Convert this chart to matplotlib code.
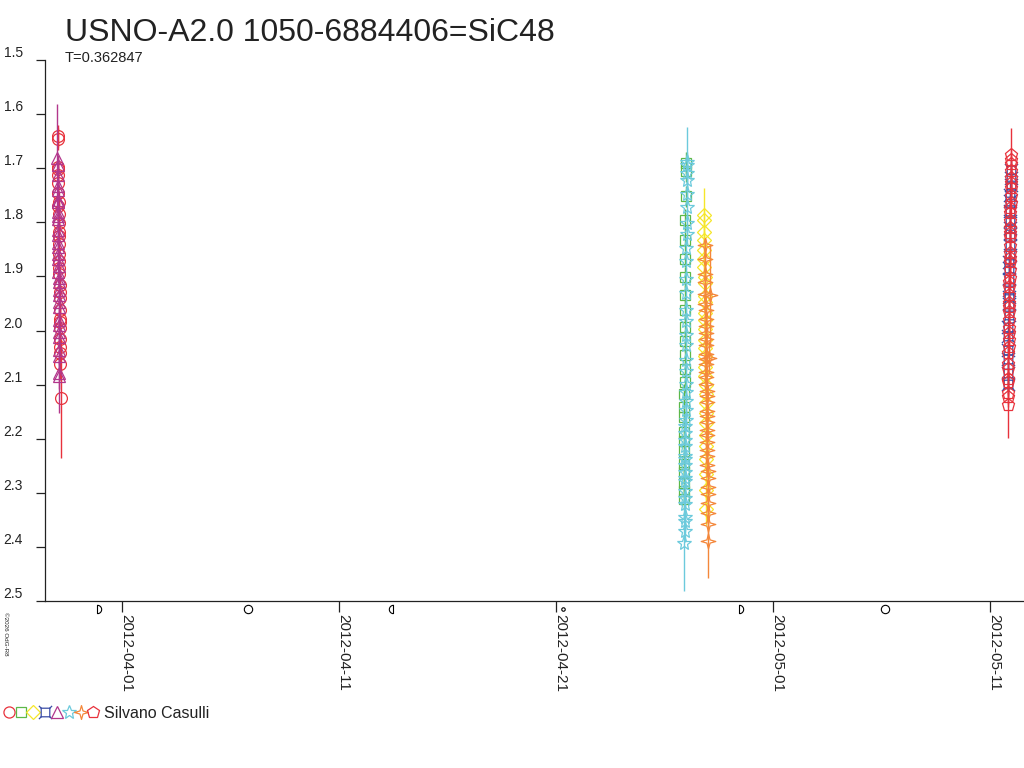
import matplotlib
matplotlib.use('Agg')
import matplotlib.pyplot as plt
import numpy as np
import pandas as pd
import matplotlib.dates as mdates
from matplotlib.path import Path
from matplotlib.lines import Line2D
from matplotlib.legend_handler import HandlerTuple
from matplotlib.transforms import blended_transform_factory

plt.rcParams['font.family'] = ['Liberation Sans', 'DejaVu Sans']

# Observations, time as HJD - 2456000, magnitudes and errors
# night 1 (2012-03-29): red circles + magenta triangles
t_circ = [15.521, 15.525, 15.529, 15.534, 15.538, 15.542, 15.547, 15.551, 15.555, 15.559,
          15.564, 15.568, 15.572, 15.577, 15.581, 15.585, 15.589, 15.594, 15.598, 15.602,
          15.607, 15.611, 15.615, 15.619, 15.624, 15.628, 15.632, 15.636, 15.640, 15.645]
m_circ = [1.640, 1.646, 1.702, 1.712, 1.698, 1.728, 1.745, 1.770, 1.785, 1.762,
          1.802, 1.818, 1.840, 1.826, 1.858, 1.872, 1.895, 1.884, 1.915, 1.940,
          1.928, 1.962, 1.978, 1.995, 1.985, 2.015, 2.030, 2.042, 2.062, 2.125]
e_circ = [0.020, 0.020, 0.015, 0.020, 0.020, 0.015, 0.020, 0.020, 0.025, 0.020,
          0.020, 0.020, 0.020, 0.025, 0.020, 0.020, 0.020, 0.025, 0.020, 0.020,
          0.020, 0.025, 0.020, 0.020, 0.030, 0.020, 0.025, 0.030, 0.030, 0.110]

t_tri = [15.503, 15.506, 15.510, 15.512, 15.515, 15.519, 15.521, 15.524, 15.528, 15.530, 15.533,
         15.537, 15.539, 15.542, 15.546, 15.548, 15.551, 15.555, 15.557, 15.560, 15.564, 15.566,
         15.569, 15.573, 15.575, 15.578, 15.582, 15.584, 15.587, 15.591, 15.593, 15.596]
m_tri = [1.681, 1.695, 1.712, 1.741, 1.733, 1.762, 1.758, 1.789, 1.794, 1.781, 1.823,
         1.815, 1.846, 1.838, 1.867, 1.859, 1.892, 1.881, 1.910, 1.903, 1.934, 1.925,
         1.957, 1.948, 1.981, 1.990, 2.012, 2.003, 2.048, 2.036, 2.079, 2.084]
e_tri = [0.100, 0.020, 0.015, 0.020, 0.025, 0.020, 0.015, 0.020, 0.020, 0.025, 0.020,
         0.020, 0.015, 0.020, 0.020, 0.025, 0.020, 0.020, 0.020, 0.015, 0.020, 0.025,
         0.020, 0.020, 0.020, 0.025, 0.020, 0.030, 0.020, 0.025, 0.030, 0.068]

# night 2 (2012-04-26/27): green squares + cyan stars
t_sq = [44.360, 44.364, 44.368, 44.372, 44.376, 44.381, 44.385, 44.389, 44.393, 44.397,
        44.401, 44.405, 44.410, 44.414, 44.418, 44.422, 44.426, 44.431, 44.435, 44.439,
        44.443, 44.447, 44.452, 44.456, 44.460]
m_sq = [2.312, 2.296, 2.281, 2.262, 2.247, 2.223, 2.205, 2.188, 2.160, 2.142,
        2.118, 2.096, 2.071, 2.045, 2.020, 1.994, 1.962, 1.935, 1.902, 1.868,
        1.833, 1.795, 1.752, 1.705, 1.690]
e_sq = [0.020, 0.020, 0.025, 0.020, 0.020, 0.015, 0.020, 0.020, 0.020, 0.025,
        0.020, 0.020, 0.015, 0.020, 0.020, 0.020, 0.025, 0.020, 0.020, 0.015,
        0.020, 0.020, 0.020, 0.020, 0.020]

t_star = [44.400, 44.403, 44.406, 44.409, 44.412, 44.415, 44.418, 44.421, 44.424, 44.427,
          44.430, 44.433, 44.436, 44.439, 44.442, 44.445, 44.448, 44.451, 44.454, 44.457,
          44.460, 44.463, 44.466, 44.469, 44.472, 44.475, 44.478, 44.481, 44.484, 44.487,
          44.490, 44.493, 44.496, 44.499, 44.502, 44.505, 44.508, 44.511, 44.514, 44.517]
m_star = [2.392, 2.371, 2.352, 2.344, 2.321, 2.309, 2.296, 2.279, 2.273, 2.261,
          2.249, 2.238, 2.232, 2.214, 2.203, 2.190, 2.176, 2.166, 2.147, 2.131,
          2.113, 2.099, 2.075, 2.054, 2.027, 2.008, 1.983, 1.962, 1.931, 1.904,
          1.871, 1.848, 1.821, 1.801, 1.771, 1.748, 1.722, 1.709, 1.695, 1.688]
e_star = [0.090, 0.020, 0.020, 0.025, 0.020, 0.020, 0.015, 0.020, 0.020, 0.025,
          0.020, 0.020, 0.020, 0.015, 0.020, 0.025, 0.020, 0.020, 0.020, 0.020,
          0.025, 0.020, 0.015, 0.020, 0.020, 0.020, 0.025, 0.020, 0.020, 0.020,
          0.015, 0.020, 0.020, 0.025, 0.020, 0.020, 0.020, 0.020, 0.025, 0.065]

# night 3 (2012-04-27/28): yellow diamonds + orange four-point stars
t_dia = [45.300, 45.304, 45.308, 45.311, 45.315, 45.319, 45.323, 45.326, 45.330, 45.334,
         45.338, 45.341, 45.345, 45.349, 45.353, 45.356, 45.360, 45.364, 45.368, 45.371,
         45.375, 45.379, 45.383, 45.386, 45.390, 45.394, 45.398, 45.401, 45.405, 45.410]
m_dia = [1.786, 1.795, 1.818, 1.832, 1.851, 1.868, 1.883, 1.902, 1.912, 1.936,
         1.948, 1.967, 1.981, 1.998, 2.018, 2.033, 2.048, 2.068, 2.085, 2.101,
         2.118, 2.134, 2.152, 2.171, 2.193, 2.214, 2.238, 2.265, 2.295, 2.330]
e_dia = [0.050, 0.020, 0.020, 0.015, 0.020, 0.025, 0.020, 0.020, 0.020, 0.015,
         0.020, 0.020, 0.025, 0.020, 0.020, 0.020, 0.020, 0.025, 0.020, 0.020,
         0.015, 0.020, 0.020, 0.025, 0.020, 0.020, 0.020, 0.025, 0.020, 0.030]

t_four = [45.350, 45.354, 45.358, 45.362, 45.366, 45.369, 45.373, 45.377, 45.381, 45.385,
          45.389, 45.392, 45.396, 45.400, 45.404, 45.408, 45.412, 45.415, 45.419, 45.423,
          45.427, 45.431, 45.435, 45.438, 45.442, 45.446, 45.450, 45.454, 45.458, 45.461,
          45.465, 45.469, 45.473, 45.477, 45.481, 45.484, 45.488, 45.492, 45.530, 45.565]
m_four = [1.842, 1.868, 1.895, 1.910, 1.932, 1.951, 1.963, 1.978, 1.992, 2.004,
          2.015, 2.027, 2.043, 2.052, 2.061, 2.076, 2.086, 2.098, 2.112, 2.121,
          2.133, 2.148, 2.158, 2.169, 2.184, 2.194, 2.207, 2.221, 2.232, 2.248,
          2.259, 2.273, 2.290, 2.302, 2.318, 2.337, 2.358, 2.390, 2.050, 1.935]
e_four = [0.012, 0.020, 0.065, 0.020, 0.020, 0.025, 0.020, 0.020, 0.020, 0.015,
          0.020, 0.020, 0.025, 0.020, 0.020, 0.020, 0.020, 0.025, 0.020, 0.020,
          0.015, 0.020, 0.020, 0.025, 0.020, 0.020, 0.020, 0.025, 0.020, 0.020,
          0.020, 0.025, 0.020, 0.020, 0.025, 0.020, 0.030, 0.067, 0.030, 0.095]

# night 4 (2012-05-11/12): blue boxed crosses + red pentagons
t_box = [59.300, 59.306, 59.313, 59.319, 59.325, 59.332, 59.338, 59.345, 59.351, 59.357,
         59.364, 59.370, 59.376, 59.383, 59.389, 59.395, 59.402, 59.408, 59.414, 59.421,
         59.427, 59.433, 59.440, 59.446]
m_box = [2.098, 2.079, 2.052, 2.036, 2.010, 1.994, 1.972, 1.951, 1.938, 1.925,
         1.905, 1.884, 1.873, 1.861, 1.842, 1.822, 1.811, 1.797, 1.780, 1.761,
         1.749, 1.731, 1.718, 1.703]
e_box = [0.020, 0.020, 0.020, 0.025, 0.020, 0.020, 0.015, 0.020, 0.020, 0.020,
         0.020, 0.025, 0.020, 0.020, 0.020, 0.015, 0.020, 0.020, 0.020, 0.020,
         0.025, 0.020, 0.020, 0.020]

t_pent = [59.306, 59.310, 59.314, 59.318, 59.322, 59.326, 59.330, 59.334, 59.338, 59.342,
          59.346, 59.350, 59.354, 59.358, 59.362, 59.366, 59.370, 59.374, 59.378, 59.382,
          59.386, 59.390, 59.394, 59.398, 59.402, 59.406, 59.410, 59.414, 59.418, 59.422,
          59.426, 59.430, 59.434, 59.438, 59.442, 59.446, 59.450, 59.454, 59.458, 59.462]
m_pent = [2.138, 2.122, 2.115, 2.096, 2.090, 2.071, 2.061, 2.042, 2.031, 2.018,
          2.004, 1.995, 1.981, 1.966, 1.957, 1.949, 1.934, 1.920, 1.911, 1.903,
          1.889, 1.874, 1.866, 1.857, 1.843, 1.828, 1.820, 1.811, 1.797, 1.782,
          1.774, 1.765, 1.751, 1.737, 1.728, 1.719, 1.706, 1.692, 1.684, 1.676]
e_pent = [0.060, 0.020, 0.020, 0.025, 0.020, 0.020, 0.015, 0.020, 0.020, 0.020,
          0.020, 0.025, 0.020, 0.020, 0.020, 0.015, 0.020, 0.020, 0.020, 0.020,
          0.025, 0.020, 0.020, 0.020, 0.020, 0.025, 0.020, 0.015, 0.020, 0.020,
          0.020, 0.025, 0.020, 0.020, 0.020, 0.020, 0.015, 0.020, 0.020, 0.050]

# Moon phases (UTC)
moon_dates = ['2012-03-30 19:41', '2012-04-06 19:19', '2012-04-13 10:50',
              '2012-04-21 07:18', '2012-04-29 09:57', '2012-05-06 03:35']
moon_kinds = ['first', 'full', 'last', 'new', 'first', 'full']

y_ticks = [1.5, 1.6, 1.7, 1.8, 1.9, 2.0, 2.1, 2.2, 2.3, 2.4, 2.5]
x_ticks = ['2012-04-01', '2012-04-11', '2012-04-21', '2012-05-01', '2012-05-11']

red = '#e8323c'
green = '#5cb848'
yellow = '#f5e62a'
blue = '#3b4ea6'
magenta = '#b2378c'
cyan = '#6ccadc'
orange = '#f4873a'
txt = '#222222'


def to_date(t):
    return pd.Timestamp('2012-04-01') + pd.to_timedelta(np.asarray(t) - 18.5, unit='D')


# custom marker shapes (closed outlines)
four_star = [(0, 1), (0.22, 0.22), (1, 0), (0.22, -0.22), (0, -1), (-0.22, -0.22), (-1, 0), (-0.22, 0.22), (0, 1)]
box_cross = Path([(-0.65, -0.65), (0.65, -0.65), (0.65, 0.65), (-0.65, 0.65), (-0.65, -0.65),
                  (0.65, 0.65), (1, 1), (-0.65, 0.65), (-1, 1), (0.65, -0.65), (1, -1), (-0.65, -0.65), (-1, -1)],
                 [Path.MOVETO, Path.LINETO, Path.LINETO, Path.LINETO, Path.CLOSEPOLY,
                  Path.MOVETO, Path.LINETO, Path.MOVETO, Path.LINETO, Path.MOVETO, Path.LINETO,
                  Path.MOVETO, Path.LINETO])
ang = np.radians(np.linspace(-90, 90, 25))
half_right = list(zip(np.cos(ang), np.sin(ang))) + [(0, -1)]
half_left = [(-x, y) for x, y in half_right]

fig = plt.figure(figsize=(10.24, 7.68), dpi=100)
ax = fig.add_axes([45 / 1024, 1 - 601 / 768, 1 - 45 / 1024, 541 / 768])

series = [
    (t_circ, m_circ, e_circ, 'o', red, 8.5),
    (t_tri, m_tri, e_tri, '^', magenta, 8.5),
    (t_sq, m_sq, e_sq, 's', green, 7.5),
    (t_star, m_star, e_star, '*', cyan, 11),
    (t_dia, m_dia, e_dia, 'D', yellow, 7.5),
    (t_four, m_four, e_four, four_star, orange, 10.5),
    (t_box, m_box, e_box, box_cross, blue, 9.5),
    (t_pent, m_pent, e_pent, 'p', red, 9.5),
]
for t, m, e, mk, col, ms in series:
    ax.errorbar(to_date(t), m, yerr=e, fmt='none', ecolor=col, elinewidth=1.0, capsize=0)
    ax.plot(to_date(t), m, linestyle='none', marker=mk, ms=ms, mfc='none', mec=col, mew=0.9)

# moon phase symbols just below the axis
moon_marker = {'first': (half_right, 6), 'full': ('o', 6), 'last': (half_left, 6), 'new': ('o', 2.5)}
trans = blended_transform_factory(ax.transData, ax.transAxes)
for d, k in zip(moon_dates, moon_kinds):
    mk, ms = moon_marker[k]
    ax.plot([pd.Timestamp(d)], [-0.015], transform=trans, linestyle='none', marker=mk, ms=ms,
            mfc='none', mec='black', mew=0.8, clip_on=False)

ax.set_ylim(2.5, 1.5)
ax.set_xlim(pd.Timestamp('2012-04-01') + pd.Timedelta(days=-3.571),
            pd.Timestamp('2012-04-01') + pd.Timedelta(days=41.55))

ax.set_yticks(y_ticks, [f'{v:.1f}' for v in y_ticks])
ax.set_xticks([pd.Timestamp(d) for d in x_ticks])
ax.xaxis.set_major_formatter(mdates.DateFormatter('%Y-%m-%d'))

for s in ['top', 'right']:
    ax.spines[s].set_visible(False)
for s in ['left', 'bottom']:
    ax.spines[s].set_linewidth(0.9)
    ax.spines[s].set_color(txt)

ax.tick_params(axis='y', direction='out', length=6.5, width=0.9, pad=9.5, labelsize=10, colors=txt)
ax.tick_params(axis='x', direction='out', length=8, width=0.9, pad=1.5, labelsize=11, colors=txt)
for lab in ax.get_yticklabels():
    lab.set_va('bottom')
for lab in ax.get_xticklabels():
    lab.set_rotation(-90)
    lab.set_rotation_mode('anchor')
    lab.set_ha('left')
    lab.set_va('baseline')

fig.text(65 / 1024, 1 - 41 / 768, 'USNO-A2.0 1050-6884406=SiC48', fontsize=23, color=txt, va='baseline')
fig.text(65 / 1024, 1 - 62 / 768, 'T=0.362847', fontsize=10.5, color=txt, va='baseline')
fig.text(3 / 1024, 1 - 612 / 768, '\u00a92026 OdG-R8', fontsize=4.5, color=txt, rotation=-90,
         ha='left', va='top')

# legend: all marker types for the one observer
handles = tuple(Line2D([], [], linestyle='none', marker=mk, ms=ms, mfc='none', mec=col, mew=0.9)
                for mk, col, ms in [('o', red, 8), ('s', green, 7), ('D', yellow, 7), (box_cross, blue, 9.5),
                                    ('^', magenta, 8), ('*', cyan, 10), (four_star, orange, 10), ('p', red, 9)])
fig.legend([handles], ['Silvano Casulli'], handler_map={tuple: HandlerTuple(ndivide=None, pad=0)},
           loc='center left', bbox_to_anchor=(3 / 1024, 1 - 713 / 768), frameon=False,
           fontsize=11.5, handlelength=6.0, handletextpad=0.3, borderpad=0, borderaxespad=0,
           numpoints=1, labelcolor=txt)

fig.savefig('out.png', dpi=100)
